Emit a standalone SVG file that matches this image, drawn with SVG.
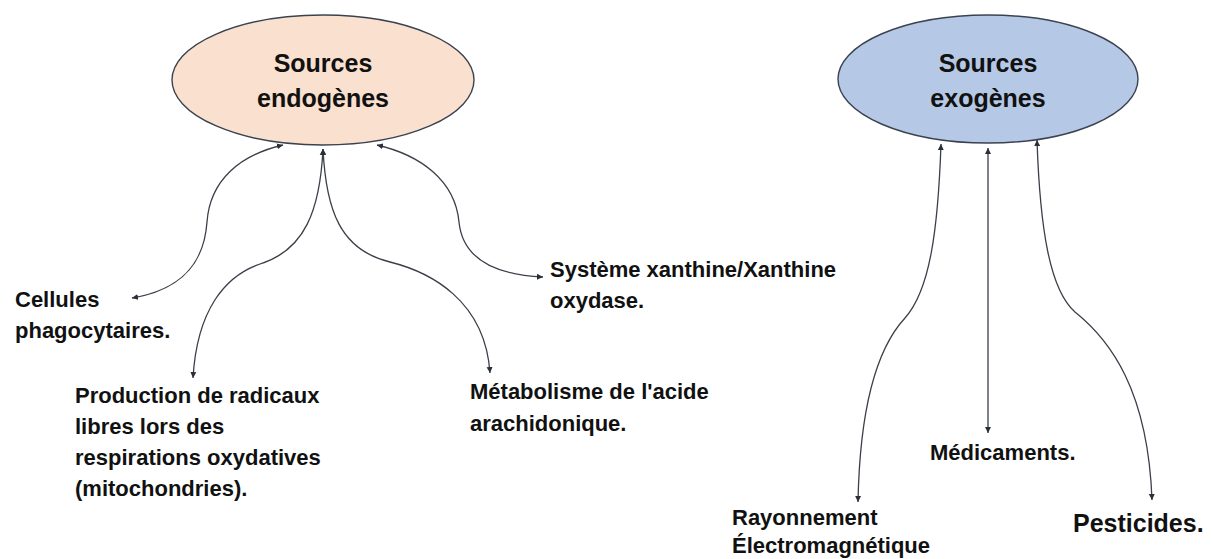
<svg xmlns="http://www.w3.org/2000/svg" width="1213" height="559" viewBox="0 0 1213 559">
<style>
.lbl{font-family:"Liberation Sans",Arial,sans-serif;font-weight:bold;font-size:22px;fill:#111;}
.title{font-family:"Liberation Sans",Arial,sans-serif;font-weight:bold;font-size:25px;fill:#111;text-anchor:middle;}
.conn{fill:none;stroke:#3a3f48;stroke-width:1.3;marker-start:url(#tip);marker-end:url(#tip);}
.ell{stroke:#3a4250;stroke-width:1.4;}
</style>
<defs>
<marker id="tip" markerUnits="userSpaceOnUse" markerWidth="7" markerHeight="7" refX="6" refY="3.5" orient="auto-start-reverse">
<path d="M0,0.5 L6,3.5 L0,6.5 z" fill="#2a2f38"/>
</marker>
</defs>
<rect width="1213" height="559" fill="#ffffff"/>
<g id="node-endogenes">
<ellipse class="ell" cx="323" cy="80" rx="151" ry="65" fill="#f9e0cf"/>
<text class="title" x="323" y="72">Sources</text>
<text class="title" x="323" y="107">endogènes</text>
</g>
<g id="node-exogenes">
<ellipse class="ell" cx="988" cy="79" rx="150" ry="64" fill="#b5c8e6"/>
<text class="title" x="988" y="72">Sources</text>
<text class="title" x="988" y="107">exogènes</text>
</g>
<g id="node-cellules">
<text class="lbl" x="15" y="307">Cellules</text>
<text class="lbl" x="15" y="338">phagocytaires.</text>
</g>
<g id="node-production">
<text class="lbl" x="75" y="403">Production de radicaux</text>
<text class="lbl" x="75" y="434">libres lors des</text>
<text class="lbl" x="75" y="465">respirations oxydatives</text>
<text class="lbl" x="75" y="496">(mitochondries).</text>
</g>
<g id="node-metabolisme">
<text class="lbl" x="470" y="399">Métabolisme de l'acide</text>
<text class="lbl" x="470" y="431">arachidonique.</text>
</g>
<g id="node-systeme">
<text class="lbl" x="550" y="277">Système xanthine/Xanthine</text>
<text class="lbl" x="550" y="308">oxydase.</text>
</g>
<g id="node-rayonnement">
<text class="lbl" x="732" y="525">Rayonnement</text>
<text class="lbl" x="732" y="553">Électromagnétique</text>
</g>
<g id="node-medicaments">
<text class="lbl" x="930" y="460">Médicaments.</text>
</g>
<g id="node-pesticides">
<text class="lbl" x="1073" y="532" style="font-size:25px">Pesticides.</text>
</g>
<g id="connectors">
<path class="conn" d="M132,298 C180,290 204,265 207,222 C210,180 240,155 283,145"/>
<path class="conn" d="M193,378 C197,310 225,276 260,264 C305,250 320,210 323,149"/>
<path class="conn" d="M490,373 C485,300 430,272 390,262 C340,250 326,210 323,149"/>
<path class="conn" d="M543,277 C500,275 463,262 459,222 C455,180 420,155 377,145"/>
<path class="conn" d="M858,502 C860,400 880,345 905,318 C930,290 938,230 941,144"/>
<path class="conn" d="M988,433 L988,148"/>
<path class="conn" d="M1152,500 C1148,390 1110,340 1075,312 C1050,290 1040,230 1037,140"/>
</g>
</svg>
